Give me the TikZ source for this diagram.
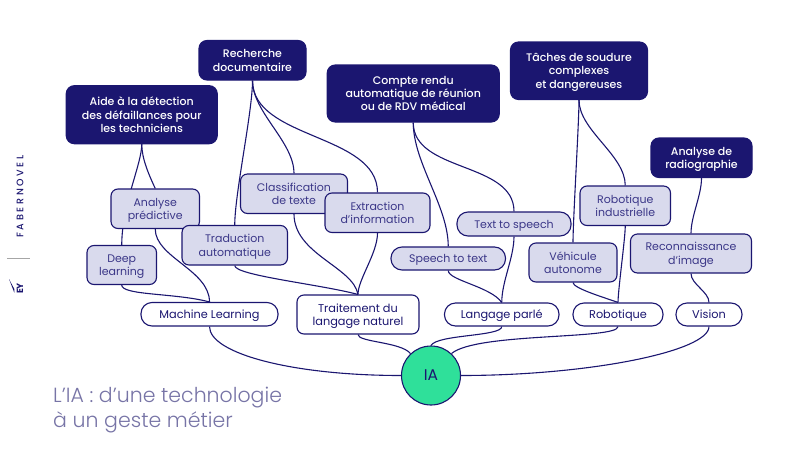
\documentclass[tikz,border=0pt]{standalone}
\usepackage{fontspec}
\usepackage{tikz}
\usetikzlibrary{backgrounds}
\setmainfont{Poppins}
\newfontfamily\titlefont{Poppins Light}
\newfontfamily\mediumfont{Poppins Medium}
\definecolor{navy}{HTML}{1B1670}
\definecolor{paleblue}{HTML}{D9DAED}
\definecolor{softnavy}{HTML}{3B3788}
\definecolor{mint}{HTML}{2FE09A}
\definecolor{titlegrey}{HTML}{7774A6}
\tikzset{
    basebox/.style={draw=navy, line width=1.1pt, align=center, inner sep=0pt, text depth=0pt, font=\fontsize{11}{13.4}\selectfont},
    darkbox/.style={basebox, fill=navy, text=white, rounded corners=8pt, font=\mediumfont\fontsize{11}{13.4}\selectfont},
    palebox/.style={basebox, fill=paleblue, text=softnavy, rounded corners=7pt},
    palepill/.style={basebox, fill=paleblue, text=softnavy, rounded corners=11pt},
    whitepill/.style={basebox, fill=white, text=navy, rounded corners=11pt, font=\fontsize{11.3}{13.4}\selectfont},
    link/.style={draw=navy, line width=1.1pt, out=-90},
}
\begin{document}
\begin{tikzpicture}[x=1pt, y=-1pt]
    \useasboundingbox (0,0) rectangle (800,450);

    % Use cases
    \node[darkbox, minimum width=151pt, minimum height=58pt] (aide) at (141.75,114.7) {Aide à la détection\\des défaillances pour\\les techniciens};
    \node[darkbox, minimum width=107pt, minimum height=39.5pt] (recherche) at (252.5,60.25) {Recherche\\documentaire};
    \node[darkbox, minimum width=172pt, minimum height=57pt] (compte) at (413.25,93.5) {Compte rendu\\automatique de réunion\\ou de RDV médical};
    \node[darkbox, minimum width=137pt, minimum height=57.5pt] (taches) at (579,70.75) {Tâches de soudure\\complexes\\et dangereuses};
    \node[darkbox, minimum width=101pt, minimum height=39.5pt] (radio) at (701.5,157.75) {Analyse de\\radiographie};

    % Techniques
    \node[palebox, minimum width=88.5pt, minimum height=39.5pt] (predictive) at (155.25,208.75) {Analyse\\prédictive};
    \node[palebox, minimum width=69.5pt, minimum height=39pt] (deep) at (121.75,265) {Deep\\learning};
    \node[palebox, minimum width=105.5pt, minimum height=39.5pt] (traduction) at (234.75,245.25) {Traduction\\automatique};
    \node[palebox, minimum width=107pt, minimum height=39.5pt] (classif) at (294,193.75) {Classification\\de texte};
    \node[palebox, minimum width=105pt, minimum height=39.5pt] (extraction) at (377.5,212.75) {Extraction\\d’information};
    \node[palepill, minimum width=114pt, minimum height=24pt] (tts) at (514,224) {Text to speech};
    \node[palepill, minimum width=114.5pt, minimum height=23pt] (stt) at (448.25,258.5) {Speech to text};
    \node[palebox, minimum width=90.5pt, minimum height=39.5pt] (indus) at (625.25,205.75) {Robotique\\industrielle};
    \node[palebox, minimum width=88pt, minimum height=39pt] (vehicule) at (573,262.5) {Véhicule\\autonome};
    \node[palebox, minimum width=121pt, minimum height=39pt] (image) at (691,253.5) {Reconnaissance\\d’image};

    % Domains
    \node[whitepill, minimum width=137pt, minimum height=23.5pt] (ml) at (209.5,314.25) {Machine Learning};
    \node[whitepill, rounded corners=7pt, minimum width=122pt, minimum height=39pt] (tal) at (358,314.5) {Traitement du\\langage naturel};
    \node[whitepill, minimum width=114.5pt, minimum height=23pt] (parle) at (501.75,314.5) {Langage parlé};
    \node[whitepill, minimum width=90pt, minimum height=23pt] (robot) at (618,314.5) {Robotique};
    \node[whitepill, minimum width=66pt, minimum height=23pt] (vision) at (709,314.5) {Vision};
    \node[circle, draw=navy, line width=1.1pt, fill=mint, text=navy, minimum size=59pt, inner sep=0pt, font=\fontsize{15.5}{15.5}\selectfont] (ia) at (431,375.5) {IA};

    % Connectors
    \begin{scope}[on background layer]
        \foreach \a/\b/\o/\i/\l in {aide/predictive/0.8/115/0.8, aide/deep/0.5/90/1,
                predictive/ml/0.8/90/0.9, deep/ml/0.3/165/1,
                recherche/traduction/0.55/90/0.55, recherche/classif/0.8/90/0.8, recherche/extraction/0.9/90/0.9,
                classif/tal/1/100/0.7, traduction/tal/0.2/165/0.8, extraction/tal/0.8/90/0.6,
                compte/stt/0.8/90/0.8, compte/tts/0.95/90/0.95, stt/parle/0.4/125/0.8, tts/parle/0.8/90/0.8,
                taches/vehicule/0.4/90/0.4, taches/indus/0.8/90/0.8, indus/robot/0.4/90/0.4, vehicule/robot/0.3/160/0.7,
                radio/image/0.8/90/0.8, image/vision/0.8/90/0.8} {
            \draw[link] (\a.south) to[out looseness=\o, in=\i, in looseness=\l] (\b.north);
        }
        \foreach \a/\c/\o/\i/\l in {ml/west/0.35/180/1.4, tal/133/0.35/130/0.7, parle/north/0.35/60/0.45, robot/47/0.2/40/0.5, vision/east/0.25/0/1.3} {
            \draw[link] (\a.south) to[out looseness=\o, in=\i, in looseness=\l] (ia.\c);
        }
    \end{scope}

    % Title and side marks
    \node[anchor=base west, inner sep=0pt, text=titlegrey, align=left, font=\titlefont\fontsize{20.5}{24.5}\selectfont] (title) at (53,427) {L’IA : d’une technologie\\à un geste métier};
    \node[rotate=90, inner sep=0pt, text=navy, font=\mediumfont\fontsize{9.5}{10}\selectfont\addfontfeature{LetterSpace=28}] (brand) at (20,196.5) {FABERNOVEL};
    \coordinate (ruleleft) at (7,258);
    \coordinate (ruleright) at (30,258);
    \draw[gray!70, line width=1pt] (ruleleft) -- (ruleright);
    \node[rotate=90, inner sep=0pt, text=navy, font=\bfseries\fontsize{9}{9}\selectfont] (ey) at (20,288.5) {EY};
    \fill[navy] (9,279) -- (14.3,292.7) -- (14.3,289) -- cycle;
\end{tikzpicture}
\end{document}
